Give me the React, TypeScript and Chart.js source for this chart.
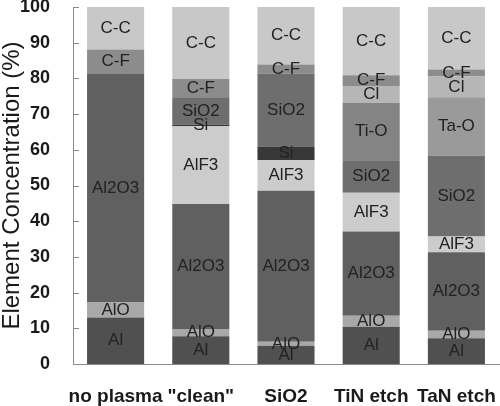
import React, { useEffect, useRef } from "react";
import { Chart, registerables } from "chart.js";

Chart.register(...registerables);

const categories = ["no plasma", '"clean"', "SiO2", "TiN etch", "TaN etch"];
const yTicks = [0, 10, 20, 30, 40, 50, 60, 70, 80, 90, 100];

const alVals = [13.0, 7.8, 5.1, 10.4, 7.2];
const aloVals = [4.2, 2.0, 1.1, 3.1, 2.1];
const al2o3Vals = [64.0, 35.0, 42.3, 23.6, 22.0];
const alf3Vals = [0, 21.8, 8.6, 10.9, 4.4];
const siVals = [0, 0.4, 3.8, 0, 0];
const sio2Vals = [0, 7.7, 20.5, 9.1, 22.6];
const tioVals = [0, 0, 0, 16.1, 0];
const taoVals = [0, 0, 0, 0, 16.4];
const clVals = [0, 0, 0, 4.7, 5.8];
const cfVals = [6.9, 5.1, 2.5, 3.0, 2.0];
const ccVals = [11.9, 20.2, 16.1, 19.1, 17.5];

const seriesNames = ["Al", "AlO", "Al2O3", "AlF3", "Si", "SiO2", "Ti-O", "Ta-O", "Cl", "C-F", "C-C"];
const seriesValues = [alVals, aloVals, al2o3Vals, alf3Vals, siVals, sio2Vals, tioVals, taoVals, clVals, cfVals, ccVals];
const seriesColors = ["#505050", "#a8a8a8", "#606060", "#cccccc", "#383838", "#6e6e6e", "#848484", "#9a9a9a", "#b6b6b6", "#8c8c8c", "#c8c8c8"];

const FONT = "'Liberation Sans', Arial, sans-serif";

const segmentLabels = {
  id: "segmentLabels",
  afterDatasetsDraw(chart: any) {
    const ctx = chart.ctx;
    ctx.save();
    ctx.font = `17px ${FONT}`;
    ctx.fillStyle = "#222222";
    ctx.textAlign = "center";
    ctx.textBaseline = "middle";
    chart.data.datasets.forEach((ds: any, di: number) => {
      const meta = chart.getDatasetMeta(di);
      meta.data.forEach((el: any, i: number) => {
        const v = ds.data[i];
        if (!v) return;
        const props = el.getProps(["x", "y", "base"], true);
        ctx.fillText(ds.label, props.x, (props.y + props.base) / 2);
      });
    });
    ctx.restore();
  },
};

const insideTicks = {
  id: "insideTicks",
  afterDraw(chart: any) {
    const ctx = chart.ctx;
    const y = chart.scales.y;
    const left = chart.chartArea.left;
    ctx.save();
    ctx.strokeStyle = "#8a8a8a";
    ctx.lineWidth = 1;
    y.ticks.forEach((t: any) => {
      const py = Math.round(y.getPixelForValue(t.value)) + 0.5;
      ctx.beginPath();
      ctx.moveTo(left, py);
      ctx.lineTo(left + 6, py);
      ctx.stroke();
    });
    ctx.restore();
  },
};

export default function App() {
  const ref = useRef<HTMLCanvasElement>(null);
  useEffect(() => {
    if (!ref.current) return;
    const chart = new Chart(ref.current, {
      type: "bar",
      data: {
        labels: categories,
        datasets: seriesNames.map((name, k) => ({
          label: name,
          data: seriesValues[k],
          backgroundColor: seriesColors[k],
          borderWidth: 0,
          barPercentage: 0.67,
          categoryPercentage: 1,
        })),
      },
      options: {
        animation: false,
        responsive: false,
        layout: { padding: { top: 7, right: 1, left: 0, bottom: 0 } },
        plugins: { legend: { display: false }, tooltip: { enabled: false } },
        scales: {
          x: {
            stacked: true,
            grid: { display: false, drawTicks: false },
            border: { display: true, color: "#8a8a8a", width: 1 },
            ticks: {
              font: { family: FONT, size: 19, weight: "bold" },
              color: "#1a1a1a",
              padding: 21,
              maxRotation: 0,
              autoSkip: false,
            },
            afterFit(scale: any) {
              scale.height = 42;
              scale.paddingLeft = 0;
              scale.paddingRight = 0;
            },
          },
          y: {
            stacked: true,
            min: 0,
            max: 100,
            afterBuildTicks(scale: any) {
              scale.ticks = yTicks.map((v) => ({ value: v }));
            },
            grid: { display: false, drawTicks: false },
            border: { display: true, color: "#8a8a8a", width: 1 },
            ticks: {
              font: { family: FONT, size: 18, weight: "bold" },
              color: "#1a1a1a",
              padding: 23,
            },
            title: {
              display: true,
              text: "Element Concentration (%)",
              font: { family: FONT, size: 24, lineHeight: 1 },
              color: "#1a1a1a",
              padding: { top: 0, bottom: 0 },
            },
            afterFit(scale: any) {
              scale.width = 73;
              scale.paddingTop = 0;
              scale.paddingBottom = 0;
            },
          },
        },
      },
      plugins: [segmentLabels, insideTicks],
    } as any);
    return () => chart.destroy();
  }, []);
  return (
    <div style={{ position: "fixed", left: 0, top: 0, width: 500, height: 406, background: "#fff" }}>
      <canvas ref={ref} width={500} height={406} />
    </div>
  );
}
